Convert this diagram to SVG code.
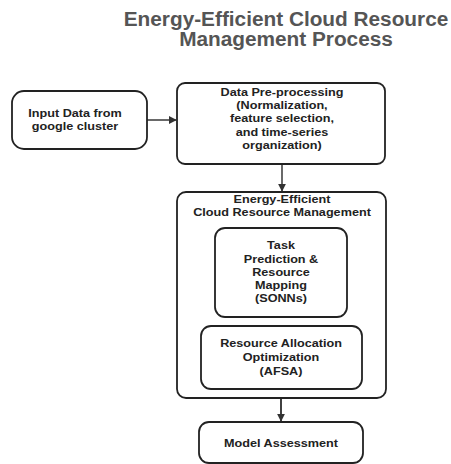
<svg xmlns="http://www.w3.org/2000/svg" width="451" height="464" viewBox="0 0 451 464">
  <style>
    .box { fill: #ffffff; stroke: #222222; stroke-width: 1.8; }
    .lbl { font-family: "Liberation Sans", Arial, sans-serif; font-weight: bold; font-size: 11.5px; fill: #222222; text-anchor: middle; }
    .title { font-family: "Liberation Sans", Arial, sans-serif; font-weight: bold; font-size: 20px; fill: #555555; text-anchor: middle; }
    .edge { stroke: #444444; stroke-width: 1.6; fill: none; }
  </style>
  <defs>
    <marker id="arrow" viewBox="0 0 10 10" refX="9" refY="5" markerWidth="5" markerHeight="5" orient="auto">
      <path d="M0,0 L10,5 L0,10 z" fill="#333333"/>
    </marker>
  </defs>
  <rect width="451" height="464" fill="#ffffff"/>

  <!-- text groups are centred on x=0 and widened slightly -->
  <g id="title" transform="translate(286 0) scale(1.04 1)">
    <text class="title" x="0" y="26">Energy-Efficient Cloud Resource</text>
    <text class="title" x="0" y="46">Management Process</text>
  </g>

  <g id="connectors">
    <line class="edge" x1="147" y1="120" x2="176" y2="120" marker-end="url(#arrow)"/>
    <line class="edge" x1="282" y1="164" x2="282" y2="191" marker-end="url(#arrow)"/>
    <line class="edge" x1="281" y1="398" x2="281" y2="421" marker-end="url(#arrow)" style="stroke:#111111"/>
  </g>

  <g id="input-data">
    <rect class="box" x="12" y="91" width="135" height="58" rx="12"/>
    <g transform="translate(75 0) scale(1.1 1)">
      <text class="lbl" x="0" y="117">Input Data from</text>
      <text class="lbl" x="0" y="130">google cluster</text>
    </g>
  </g>

  <g id="pre-processing">
    <rect class="box" x="177" y="83" width="208" height="81" rx="8"/>
    <g transform="translate(282 0) scale(1.1 1)">
      <text class="lbl" x="0" y="96">Data Pre-processing</text>
      <text class="lbl" x="0" y="109">(Normalization,</text>
      <text class="lbl" x="0" y="122">feature selection,</text>
      <text class="lbl" x="0" y="136">and time-series</text>
      <text class="lbl" x="0" y="149">organization)</text>
    </g>
  </g>

  <g id="resource-management">
    <rect class="box" x="177" y="192" width="209" height="206" rx="9"/>
    <g transform="translate(282 0) scale(1.1 1)">
      <text class="lbl" x="0" y="203">Energy-Efficient</text>
      <text class="lbl" x="0" y="216">Cloud Resource Management</text>
    </g>
  </g>

  <g id="task-prediction">
    <rect class="box" x="215" y="228" width="132" height="89" rx="10"/>
    <g transform="translate(281 0) scale(1.1 1)">
      <text class="lbl" x="0" y="249">Task</text>
      <text class="lbl" x="0" y="263">Prediction &amp;</text>
      <text class="lbl" x="0" y="276">Resource</text>
      <text class="lbl" x="0" y="289">Mapping</text>
      <text class="lbl" x="0" y="302">(SONNs)</text>
    </g>
  </g>

  <g id="allocation-optimization">
    <rect class="box" x="201" y="326" width="161" height="63" rx="10"/>
    <g transform="translate(281 0) scale(1.1 1)">
      <text class="lbl" x="0" y="347">Resource Allocation</text>
      <text class="lbl" x="0" y="361">Optimization</text>
      <text class="lbl" x="0" y="375">(AFSA)</text>
    </g>
  </g>

  <g id="model-assessment">
    <rect class="box" x="199" y="422" width="164" height="41" rx="10"/>
    <g transform="translate(281 0) scale(1.1 1)">
      <text class="lbl" x="0" y="447">Model Assessment</text>
    </g>
  </g>
</svg>
